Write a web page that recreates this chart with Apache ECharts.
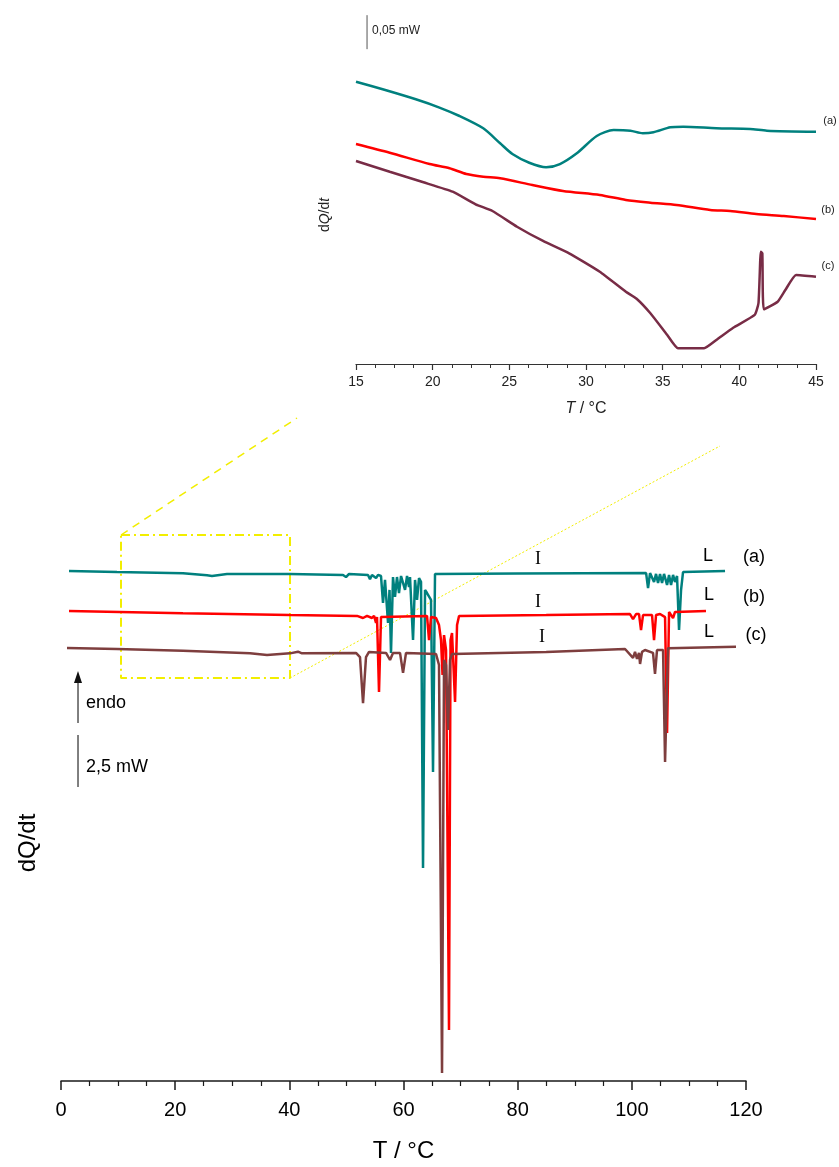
<!DOCTYPE html>
<html><head><meta charset="utf-8">
<script src="https://cdn.jsdelivr.net/npm/echarts@6/dist/echarts.min.js"></script>
<style>html,body{margin:0;padding:0;background:#fff}#c{width:839px;height:1167px}</style>
</head><body><div id="c"></div>
<script>
// ---- main DSC traces: temperature (°C) vs heat flow (mW, stacked offsets) ----
const mainTempA = [1.40, 9.81, 21.37, 25.58, 26.45, 29.08, 40.12, 49.40, 49.93, 50.46, 53.78, 54.13, 54.48, 55.19, 55.54, 56.06, 56.41, 56.76, 57.29, 57.55, 57.81, 58.16, 58.51, 58.86, 59.21, 59.57, 60.27, 60.62, 60.97, 61.14, 61.67, 62.02, 62.37, 62.72, 63.07, 63.42, 63.77, 64.12, 64.47, 64.82, 65.17, 65.52, 80.00, 102.50, 102.84, 103.19, 103.89, 104.24, 104.59, 104.94, 105.29, 105.64, 106.17, 106.52, 106.87, 107.22, 107.57, 107.92, 108.27, 108.62, 108.97, 116.33];
const mainFlowA = [24.52, 24.47, 24.41, 24.31, 24.28, 24.38, 24.38, 24.33, 24.23, 24.38, 24.33, 24.13, 24.33, 24.18, 24.33, 24.28, 22.98, 24.09, 22.02, 23.61, 20.58, 24.23, 23.27, 24.23, 23.46, 24.28, 23.61, 24.28, 23.75, 24.23, 21.20, 24.09, 23.13, 24.18, 24.00, 10.24, 23.61, 23.46, 23.37, 23.13, 14.86, 24.38, 24.40, 24.42, 23.70, 24.42, 23.99, 24.38, 23.94, 24.38, 23.94, 24.38, 23.85, 24.33, 23.85, 24.33, 23.99, 24.28, 21.68, 23.60, 24.47, 24.52];
const mainTempB = [1.40, 21.37, 40.12, 51.86, 52.91, 53.61, 54.48, 54.84, 55.19, 55.36, 55.71, 56.06, 64.12, 64.47, 64.82, 65.70, 66.22, 66.57, 66.84, 67.10, 67.45, 67.97, 68.24, 68.50, 69.03, 69.38, 69.73, 85.00, 99.68, 100.21, 100.74, 101.26, 101.61, 101.96, 103.54, 103.89, 104.24, 104.94, 105.29, 105.82, 106.17, 106.52, 107.22, 107.57, 112.99];
const mainFlowB = [22.60, 22.49, 22.40, 22.36, 22.26, 22.36, 22.26, 22.36, 22.02, 22.31, 18.70, 22.31, 22.36, 21.20, 22.31, 22.26, 21.92, 21.20, 19.52, 21.44, 20.72, 2.45, 21.20, 21.54, 18.22, 21.92, 22.36, 22.40, 22.45, 22.21, 22.45, 22.45, 21.68, 22.40, 22.40, 21.20, 22.40, 22.45, 22.36, 22.30, 16.73, 22.55, 22.26, 22.55, 22.60];
const mainTempC = [1.05, 9.81, 21.37, 33.11, 36.09, 40.12, 41.52, 42.22, 51.68, 52.38, 52.91, 53.43, 53.96, 56.94, 57.64, 58.16, 59.39, 59.92, 60.44, 65.70, 66.22, 66.75, 67.10, 67.45, 67.80, 68.15, 68.50, 85.00, 98.81, 100.21, 100.56, 100.91, 101.26, 101.44, 101.79, 102.31, 103.71, 104.06, 104.41, 105.47, 105.82, 106.34, 118.25];
const mainFlowC = [20.82, 20.77, 20.69, 20.56, 20.48, 20.56, 20.64, 20.56, 20.58, 20.38, 18.17, 20.38, 20.63, 20.58, 20.24, 20.58, 20.58, 19.62, 20.58, 20.53, 20.00, 0.38, 20.24, 20.00, 16.88, 20.24, 20.53, 20.63, 20.77, 20.34, 20.63, 20.29, 20.58, 20.05, 20.63, 20.72, 20.58, 19.57, 20.72, 20.72, 15.34, 20.81, 20.88];

// ---- inset (15–45 °C zoom): temperature vs heat flow (mW) ----
const insetTempA = [15, 16.74, 18.9, 20.4, 21.75, 23.3, 24.4, 25.2, 26.3, 27.4, 28.3, 29.4, 30.7, 31.8, 32.9, 33.7, 34.4, 35.5, 36.35, 38.5, 40.7, 41.8, 45];
const insetFlowA = [0.4151, 0.4040, 0.3893, 0.3775, 0.3647, 0.3466, 0.3246, 0.3088, 0.2960, 0.2893, 0.2941, 0.3099, 0.3353, 0.3441, 0.3431, 0.3393, 0.3407, 0.3481, 0.3490, 0.3466, 0.3456, 0.3431, 0.3416];
const insetTempB = [15, 17.2, 19.8, 21.1, 22.2, 23.3, 24.4, 26.5, 28.5, 30.9, 32.6, 34.2, 35.9, 38.1, 39.4, 41.1, 42.9, 45];
const insetFlowB = [0.3235, 0.3107, 0.2941, 0.2878, 0.2794, 0.2754, 0.2731, 0.2632, 0.2544, 0.2485, 0.2412, 0.2372, 0.2338, 0.2265, 0.2250, 0.2206, 0.2176, 0.2132];
const insetTempC = [15, 17.2, 19.4, 21.3, 22.8, 23.9, 25.5, 27.2, 28.9, 30.9, 32.6, 33.3, 34.2, 35.3, 36.0, 37.7, 38.5, 39.6, 41.0, 41.25, 41.4, 41.5, 41.6, 42.5, 43.0, 43.7, 45];
const insetFlowC = [0.2985, 0.2828, 0.2672, 0.2534, 0.2349, 0.2250, 0.2019, 0.1809, 0.1628, 0.1357, 0.1063, 0.0960, 0.0746, 0.0426, 0.0231, 0.0231, 0.0353, 0.0534, 0.0721, 0.0897, 0.1651, 0.1628, 0.0804, 0.0916, 0.1088, 0.1309, 0.1284];

// scale bars / zoom frame (data coordinates)
const mainScaleBar = [[2.98, 16.63], [2.98, 14.13]];   // 2,5 mW
const endoArrow = [[2.98, 17.21], [2.98, 19.42]];
const insetScaleBar = [[15.72, 0.513], [15.72, 0.463]]; // 0,05 mW
const zoomBoxT = [10.51, 40.12];
const zoomBoxQ = [19.38, 26.25];

const zip = (xs, ys) => xs.map((x, i) => [x, ys[i]]);
const TEAL = '#00807E', RED = '#FF0000', BROWN = '#7E3E3E', MAROON = '#782C46', YEL = '#F2EE00';

const chart = echarts.init(document.getElementById('c'), null, {renderer: 'canvas'});
const lineS = (name, data, color, xi, smooth) => ({
  name, type: 'line', xAxisIndex: xi, yAxisIndex: xi, data, showSymbol: false, smooth: smooth || false,
  lineStyle: {color, width: 2.5}, itemStyle: {color}, silent: true, z: 3
});

chart.setOption({
  animation: false,
  backgroundColor: '#fff',
  grid: [
    {left: 61, right: 93, top: 519.4, bottom: 86},
    {left: 356, right: 23, top: 10.4, bottom: 803}
  ],
  xAxis: [
    {gridIndex: 0, type: 'value', min: 0, max: 120, interval: 20,
     axisLine: {lineStyle: {color: '#1a1a1a', width: 1.5}},
     axisTick: {length: 9, lineStyle: {color: '#1a1a1a', width: 1.5}},
     minorTick: {show: true, splitNumber: 4, length: 5, lineStyle: {color: '#1a1a1a', width: 1.2}},
     splitLine: {show: false},
     axisLabel: {fontSize: 20, color: '#000', margin: 19, fontFamily: 'Liberation Sans Narrow, Arial Narrow, Liberation Sans, Arial'},
     name: 'T / °C', nameLocation: 'middle', nameGap: 58,
     nameTextStyle: {fontSize: 24, color: '#000', fontFamily: 'Liberation Sans Narrow, Arial Narrow, Liberation Sans, Arial'}},
    {gridIndex: 1, type: 'value', min: 15, max: 45, interval: 5,
     axisLine: {lineStyle: {color: '#333', width: 1.2}},
     axisTick: {length: 6, lineStyle: {color: '#333', width: 1.2}},
     minorTick: {show: true, splitNumber: 4, length: 4, lineStyle: {color: '#333', width: 1}},
     splitLine: {show: false},
     axisLabel: {fontSize: 14, color: '#222', margin: 11, fontFamily: 'Liberation Sans, Arial'},
     name: '{i|T} / °C', nameLocation: 'middle', nameGap: 37,
     nameTextStyle: {fontSize: 16, color: '#222', fontFamily: 'Liberation Sans, Arial',
       rich: {i: {fontStyle: 'italic', fontSize: 16, color: '#222', fontFamily: 'Liberation Sans, Arial'}}}}
  ],
  yAxis: [
    {gridIndex: 0, type: 'value', min: 0, max: 27, show: false},
    {gridIndex: 1, type: 'value', min: 0, max: 0.52, show: false}
  ],
  series: [
    lineS('(a)', zip(mainTempA, mainFlowA), TEAL, 0),
    lineS('(b)', zip(mainTempB, mainFlowB), RED, 0),
    lineS('(c)', zip(mainTempC, mainFlowC), BROWN, 0),
    lineS('inset (a)', zip(insetTempA, insetFlowA), TEAL, 1, 0.25),
    lineS('inset (b)', zip(insetTempB, insetFlowB), RED, 1, 0.25),
    lineS('inset (c)', zip(insetTempC, insetFlowC), MAROON, 1, 0.15),
    {type: 'line', xAxisIndex: 0, yAxisIndex: 0, silent: true, showSymbol: false, clip: false,
     data: [[zoomBoxT[0], zoomBoxQ[1]], [zoomBoxT[1], zoomBoxQ[1]], [zoomBoxT[1], zoomBoxQ[0]], [zoomBoxT[0], zoomBoxQ[0]], [zoomBoxT[0], zoomBoxQ[1]]],
     lineStyle: {color: YEL, width: 2, type: [9, 4, 2, 4]}, z: 1},
    {type: 'line', xAxisIndex: 0, yAxisIndex: 0, silent: true, showSymbol: false, clip: false,
     data: mainScaleBar, lineStyle: {color: '#555', width: 1.5}},
    {type: 'line', xAxisIndex: 0, yAxisIndex: 0, silent: true, clip: false,
     data: [{value: endoArrow[0], symbol: 'none'}, {value: endoArrow[1], symbol: 'triangle', symbolSize: [8, 12]}],
     showSymbol: true, lineStyle: {color: '#555', width: 1.5}, itemStyle: {color: '#111'}},
    {type: 'line', xAxisIndex: 1, yAxisIndex: 1, silent: true, showSymbol: false, clip: false,
     data: insetScaleBar, lineStyle: {color: '#555', width: 1}}
  ],
  graphic: [
    {type: 'line', shape: {x1: 121, y1: 535, x2: 297, y2: 418}, style: {stroke: YEL, lineWidth: 1.5, lineDash: [8, 6]}, silent: true},
    {type: 'line', shape: {x1: 290, y1: 678, x2: 720, y2: 446}, style: {stroke: YEL, lineWidth: 1, lineDash: [2, 2]}, silent: true},
    // main annotations
    {type: 'text', x: 538, y: 559, style: {text: 'I', font: '18px "Liberation Serif", "Times New Roman", serif', fill: '#000', textAlign: 'center', textVerticalAlign: 'middle'}},
    {type: 'text', x: 538, y: 602, style: {text: 'I', font: '18px "Liberation Serif", "Times New Roman", serif', fill: '#000', textAlign: 'center', textVerticalAlign: 'middle'}},
    {type: 'text', x: 542, y: 637, style: {text: 'I', font: '18px "Liberation Serif", "Times New Roman", serif', fill: '#000', textAlign: 'center', textVerticalAlign: 'middle'}},
    {type: 'text', x: 708, y: 556, style: {text: 'L', font: '18px "Liberation Sans", Arial, sans-serif', fill: '#000', textAlign: 'center', textVerticalAlign: 'middle'}},
    {type: 'text', x: 709, y: 595, style: {text: 'L', font: '18px "Liberation Sans", Arial, sans-serif', fill: '#000', textAlign: 'center', textVerticalAlign: 'middle'}},
    {type: 'text', x: 709, y: 632, style: {text: 'L', font: '18px "Liberation Sans", Arial, sans-serif', fill: '#000', textAlign: 'center', textVerticalAlign: 'middle'}},
    {type: 'text', x: 754, y: 557, style: {text: '(a)', font: '18px "Liberation Sans", Arial, sans-serif', fill: '#000', textAlign: 'center', textVerticalAlign: 'middle'}},
    {type: 'text', x: 754, y: 597, style: {text: '(b)', font: '18px "Liberation Sans", Arial, sans-serif', fill: '#000', textAlign: 'center', textVerticalAlign: 'middle'}},
    {type: 'text', x: 756, y: 635, style: {text: '(c)', font: '18px "Liberation Sans", Arial, sans-serif', fill: '#000', textAlign: 'center', textVerticalAlign: 'middle'}},
    {type: 'text', x: 86, y: 703, style: {text: 'endo', font: '18px "Liberation Sans", Arial, sans-serif', fill: '#000', textAlign: 'left', textVerticalAlign: 'middle'}},
    {type: 'text', x: 86, y: 767, style: {text: '2,5 mW', font: '18px "Liberation Sans", Arial, sans-serif', fill: '#000', textAlign: 'left', textVerticalAlign: 'middle'}},
    {type: 'text', x: 28, y: 843, rotation: Math.PI / 2, style: {text: 'dQ/dt', font: '24px "Liberation Sans", Arial, sans-serif', fill: '#000', textAlign: 'center', textVerticalAlign: 'middle'}},
    // inset annotations
    {type: 'text', x: 372, y: 31, style: {text: '0,05 mW', font: '12px "Liberation Sans", Arial, sans-serif', fill: '#222', textAlign: 'left', textVerticalAlign: 'middle'}},
    {type: 'text', x: 830, y: 121, style: {text: '(a)', font: '11px "Liberation Sans", Arial, sans-serif', fill: '#222', textAlign: 'center', textVerticalAlign: 'middle'}},
    {type: 'text', x: 828, y: 210, style: {text: '(b)', font: '11px "Liberation Sans", Arial, sans-serif', fill: '#222', textAlign: 'center', textVerticalAlign: 'middle'}},
    {type: 'text', x: 828, y: 266, style: {text: '(c)', font: '11px "Liberation Sans", Arial, sans-serif', fill: '#222', textAlign: 'center', textVerticalAlign: 'middle'}},
    {type: 'text', x: 325, y: 215, rotation: Math.PI / 2,
     style: {text: 'd{i|Q}/d{i|t}', font: '14px "Liberation Sans", Arial, sans-serif', fill: '#222', textAlign: 'center', textVerticalAlign: 'middle',
       rich: {i: {fontStyle: 'italic', fontSize: 14, fontFamily: 'Liberation Sans, Arial', fill: '#222'}}}}
  ]
});
</script>
</body></html>
